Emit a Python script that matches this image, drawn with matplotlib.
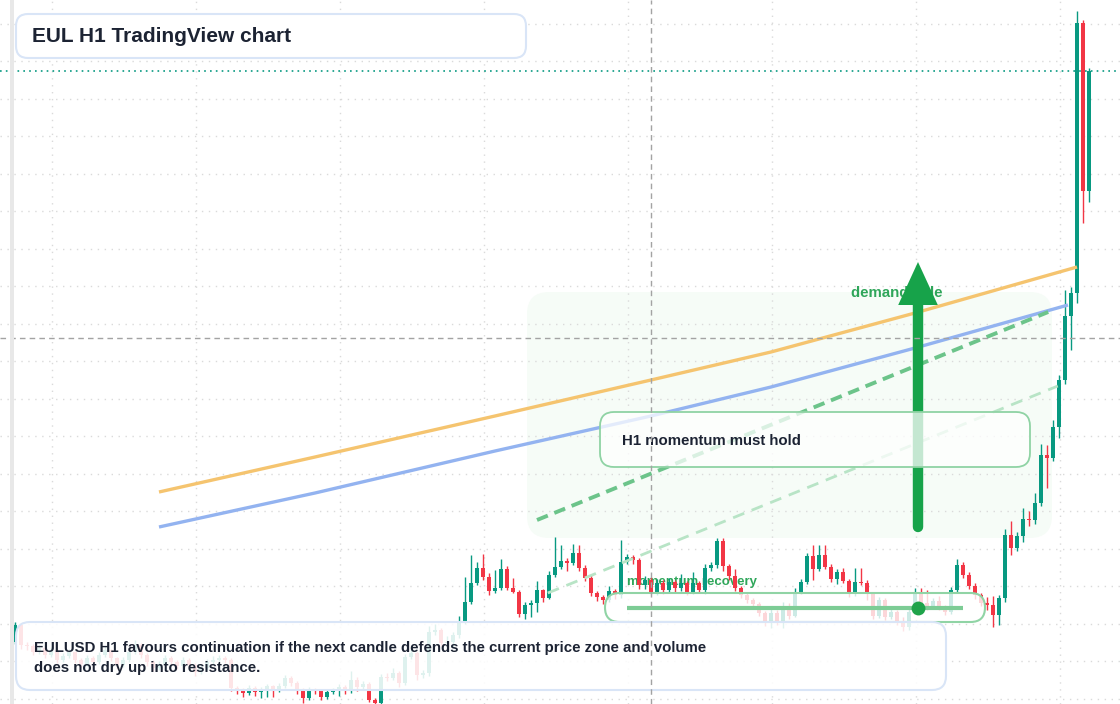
import numpy as np
import matplotlib.pyplot as plt
from matplotlib.patches import FancyBboxPatch

plt.rcParams['font.family'] = ['Liberation Sans', 'DejaVu Sans']

# EUL/USD H1 candles (index 0 = oldest), open of each bar = previous close
first_open = 10.62
closes = [10.79, 10.59, 10.58, 10.52, 10.56, 10.49, 10.54, 10.44, 10.48, 10.52,
          10.44, 10.40, 10.46, 10.42, 10.49, 10.54, 10.46, 10.39, 10.44, 10.52,
          10.59, 10.49, 10.42, 10.36, 10.40, 10.46, 10.42, 10.38, 10.44, 10.39,
          10.32, 10.36, 10.42, 10.44, 10.46, 10.44, 10.16, 10.14, 10.11, 10.16,
          10.12, 10.14, 10.18, 10.14, 10.18, 10.26, 10.21, 10.14, 10.06, 10.14,
          10.13, 10.07, 10.12, 10.13, 10.17, 10.13, 10.24, 10.17, 10.20, 10.04,
          10.01, 10.27, 10.26, 10.31, 10.21, 10.47, 10.51, 10.29, 10.31, 10.72,
          10.74, 10.61, 10.62, 10.69, 10.82, 11.02, 11.21, 11.36, 11.27, 11.13,
          11.16, 11.35, 11.16, 11.12, 10.90, 10.99, 11.01, 11.14, 11.06, 11.29,
          11.37, 11.43, 11.41, 11.51, 11.36, 11.26, 11.11, 11.07, 11.04, 11.13,
          11.09, 11.42, 11.47, 11.44, 11.19, 11.24, 11.12, 11.21, 11.14, 11.22,
          11.16, 11.21, 11.12, 11.21, 11.14, 11.36, 11.39, 11.63, 11.38, 11.28,
          11.16, 11.09, 11.04, 11.00, 10.91, 10.81, 10.91, 10.82, 10.97, 10.88,
          11.12, 11.22, 11.48, 11.35, 11.49, 11.37, 11.25, 11.32, 11.23, 11.10,
          11.22, 11.21, 11.10, 10.88, 11.04, 10.87, 10.92, 10.82, 10.77, 10.92,
          11.11, 11.01, 10.97, 11.03, 10.97, 10.92, 11.14, 11.39, 11.29, 11.18,
          11.09, 11.01, 10.99, 10.89, 11.06, 11.69, 11.56, 11.68, 11.85, 11.84,
          12.01, 12.49, 12.46, 12.77, 13.24, 13.88, 14.11, 16.81, 15.13, 16.33]
highs = [10.82, 10.80, 10.62, 10.60, 10.59, 10.58, 10.57, 10.56, 10.51, 10.55,
         10.53, 10.46, 10.49, 10.48, 10.52, 10.58, 10.55, 10.47, 10.47, 10.55,
         10.64, 10.61, 10.51, 10.44, 10.43, 10.49, 10.48, 10.44, 10.47, 10.46,
         10.41, 10.40, 10.45, 10.48, 10.49, 10.48, 10.46, 10.18, 10.16, 10.19,
         10.18, 10.17, 10.20, 10.19, 10.21, 10.29, 10.28, 10.23, 10.16, 10.17,
         10.16, 10.15, 10.15, 10.16, 10.20, 10.19, 10.33, 10.27, 10.23, 10.22,
         10.06, 10.30, 10.31, 10.36, 10.33, 10.50, 10.56, 10.53, 10.34, 10.78,
         10.80, 10.76, 10.68, 10.72, 10.88, 11.27, 11.49, 11.42, 11.50, 11.31,
         11.34, 11.45, 11.38, 11.26, 11.14, 11.02, 11.04, 11.23, 11.15, 11.33,
         11.67, 11.59, 11.46, 11.60, 11.59, 11.39, 11.29, 11.13, 11.09, 11.18,
         11.15, 11.64, 11.50, 11.49, 11.46, 11.28, 11.27, 11.25, 11.24, 11.26,
         11.24, 11.30, 11.23, 11.32, 11.23, 11.40, 11.42, 11.66, 11.66, 11.40,
         11.35, 11.18, 11.11, 11.06, 11.02, 10.93, 10.95, 10.94, 11.02, 11.01,
         11.16, 11.25, 11.51, 11.59, 11.59, 11.59, 11.40, 11.35, 11.36, 11.25,
         11.36, 11.36, 11.24, 11.12, 11.07, 11.06, 10.95, 10.94, 10.87, 10.95,
         11.16, 11.16, 11.14, 11.06, 11.08, 10.99, 11.17, 11.45, 11.42, 11.32,
         11.21, 11.11, 11.07, 11.08, 11.09, 11.75, 11.83, 11.72, 11.96, 11.93,
         12.11, 12.60, 12.59, 12.84, 13.29, 14.14, 14.17, 16.93, 16.84, 16.36]
lows = [10.60, 10.55, 10.54, 10.49, 10.50, 10.46, 10.47, 10.41, 10.42, 10.46,
        10.41, 10.37, 10.38, 10.39, 10.40, 10.47, 10.43, 10.35, 10.37, 10.42,
        10.50, 10.46, 10.38, 10.33, 10.34, 10.38, 10.39, 10.35, 10.36, 10.36,
        10.28, 10.30, 10.34, 10.40, 10.42, 10.41, 10.13, 10.10, 10.07, 10.09,
        10.08, 10.06, 10.07, 10.07, 10.12, 10.16, 10.18, 10.10, 10.01, 10.04,
        10.10, 10.04, 10.05, 10.10, 10.08, 10.10, 10.11, 10.13, 10.14, 10.02,
        9.99, 9.99, 10.23, 10.24, 10.17, 10.19, 10.45, 10.24, 10.26, 10.28,
        10.69, 10.58, 10.58, 10.57, 10.66, 10.80, 11.00, 11.19, 11.24, 11.09,
        11.11, 11.14, 11.14, 11.11, 10.87, 10.85, 10.87, 10.92, 11.02, 11.05,
        11.27, 11.35, 11.33, 11.39, 11.33, 11.23, 11.08, 11.03, 11.00, 11.02,
        11.05, 11.06, 11.40, 11.40, 11.15, 11.15, 11.09, 11.09, 11.10, 11.11,
        11.12, 11.13, 11.09, 11.10, 11.11, 11.10, 11.33, 11.36, 11.33, 11.24,
        11.13, 11.06, 11.01, 10.97, 10.88, 10.78, 10.76, 10.79, 10.76, 10.85,
        10.87, 11.10, 11.20, 11.24, 11.33, 11.35, 11.22, 11.20, 11.21, 11.07,
        11.08, 11.19, 11.04, 10.85, 10.86, 10.84, 10.85, 10.79, 10.73, 10.74,
        10.90, 10.98, 10.94, 10.95, 10.94, 10.89, 10.90, 11.12, 11.26, 11.15,
        11.05, 10.98, 10.94, 10.77, 10.79, 11.02, 11.49, 11.53, 11.62, 11.78,
        11.80, 11.98, 12.16, 12.43, 12.66, 13.20, 13.54, 14.01, 14.81, 15.02]

# moving averages (orange above, blue below) and trend lines
ma_orange_x = [24, 50, 80, 106, 126, 150, 177]
ma_orange_y = [12.12, 12.47, 12.88, 13.24, 13.52, 13.91, 14.37]
ma_blue_x = [24, 50, 80, 106, 126, 150, 175.5]
ma_blue_y = [11.77, 12.11, 12.53, 12.88, 13.17, 13.56, 13.99]
trend_x = [87, 172.2]
trend_y = [11.84, 13.92]
trend2_x = [88.8, 173.8]
trend2_y = [11.11, 13.18]

W, H = 1120, 704
UP, DOWN = '#089981', '#f23645'
INK = '#1c2333'

opens = [first_open] + closes[:-1]
idx = np.arange(len(closes))
o = np.array(opens)
c = np.array(closes)
colors = [UP if cc >= oo else DOWN for oo, cc in zip(o, c)]

fig = plt.figure(figsize=(W / 100, H / 100), dpi=100)
ax = fig.add_axes([0, 0, 1, 1])
ax.set_xlim(-2.5, (W - 15) / 6)
ax.set_ylim(10.0, 10.0 + H / 100)

# grid
ax.set_xticks(np.arange(6.17, 185, 24))
ax.set_yticks(np.arange(16.80, 9.95, -0.375))
ax.tick_params(length=0, labelleft=False, labelbottom=False)
for s in ax.spines.values():
    s.set_visible(False)
ax.set_axisbelow(True)
ax.grid(color='#dadada', linestyle=(0, (1, 4)), linewidth=1)


def px(x, y):
    return x / W, 1 - y / H


def rbox(x0, y0, x1, y1, r, fc, ec, lw, z):
    fx, fy = px(x0, y1)
    p = FancyBboxPatch((fx, fy), (x1 - x0) / W, (y1 - y0) / H,
                       boxstyle=f"round,pad=0,rounding_size={r / W}",
                       mutation_aspect=W / H, transform=ax.transAxes,
                       fc=fc, ec=ec, lw=lw, zorder=z)
    ax.add_patch(p)


def ptext(x, y, s, **kw):
    fx, fy = px(x, y)
    ax.text(fx, fy, s, transform=ax.transAxes, va='center', ha='left', **kw)


# faint demand zone
rbox(527, 292, 1052, 538, 22, '#f6fcf7', 'none', 0, 0.3)

# candles
body = np.maximum(np.abs(c - o), 0.012)
ax.vlines(idx, lows, highs, colors=colors, lw=1, zorder=3)
ax.bar(idx, body, bottom=np.minimum(o, c), width=0.8, color=colors, zorder=3)

# moving averages and trend lines
ax.plot(ma_orange_x, ma_orange_y, color='#f5c46f', lw=2.4, zorder=4, solid_capstyle='butt')
ax.plot(ma_blue_x, ma_blue_y, color='#93b3f0', lw=2.4, zorder=4, solid_capstyle='butt')
ax.plot(trend_x, trend_y, color='#6cc48a', lw=2.8, ls=(0, (3, 1.8)), zorder=4)
ax.plot(trend2_x, trend2_y, color='#b8e4c6', lw=2.0, ls=(0, (4.3, 2.9)), zorder=4)

# last price line
ax.axhline(closes[-1], color=UP, lw=1.2, ls=(0, (1, 2.5)), zorder=2)

# labels under the marks
ptext(627, 582, 'momentum recovery', color='#2fa65a', fontsize=9.5, fontweight='bold', zorder=2)
ptext(851, 293, 'demand side', color='#2fa65a', fontsize=10.8, fontweight='bold', zorder=3.5)

# up arrow
ax.plot([150.5, 150.5], [11.77, 14.0], color='#17a34a', lw=7.5, solid_capstyle='round', zorder=4.5)
ax.fill([147.2, 153.8, 150.5], [13.99, 13.99, 14.42], color='#17a34a', zorder=4.5, lw=0)

# annotation boxes
rbox(600, 412, 1030, 467, 14, (1, 1, 1, 0.75), '#8fd3a4', 1.3, 5)
ptext(622, 441, 'H1 momentum must hold', color=INK, fontsize=10.8, fontweight='bold', zorder=6)

rbox(605, 593, 985, 622, 14.5, (1, 1, 1, 0.8), '#90d4a5', 1.5, 5)
ax.plot([102, 158], [10.96, 10.96], color='#7dcc95', lw=3, zorder=6, solid_capstyle='butt')
ax.plot([150.5], [10.96], 'o', color='#1fa34a', ms=10, mec='none', zorder=6)

rbox(16, 622, 946, 690, 14, (1, 1, 1, 0.87), '#d9e5f7', 1.5, 5)
ptext(34, 648, 'EULUSD H1 favours continuation if the next candle defends the current price zone and volume',
      color=INK, fontsize=10.8, fontweight='bold', zorder=6)
ptext(34, 668, 'does not dry up into resistance.', color=INK, fontsize=10.8, fontweight='bold', zorder=6)

rbox(16, 14, 526, 58, 12, 'white', '#d9e5f7', 1.5, 5)
ptext(32, 36, 'EUL H1 TradingView chart', color=INK, fontsize=15, fontweight='bold', zorder=6)

# crosshair
ax.axvline(106, color='#a3a3a3', lw=1, ls=(0, (4, 3)), zorder=7)
ax.axhline(13.66, color='#a3a3a3', lw=1, ls=(0, (4, 3)), zorder=7)

# left price-scale strip
ax.axvspan(-2.5 + 10 / 6, -2.5 + 14 / 6, color='#e8e8e8', zorder=8, lw=0)

fig.savefig('out.png', dpi=100)
